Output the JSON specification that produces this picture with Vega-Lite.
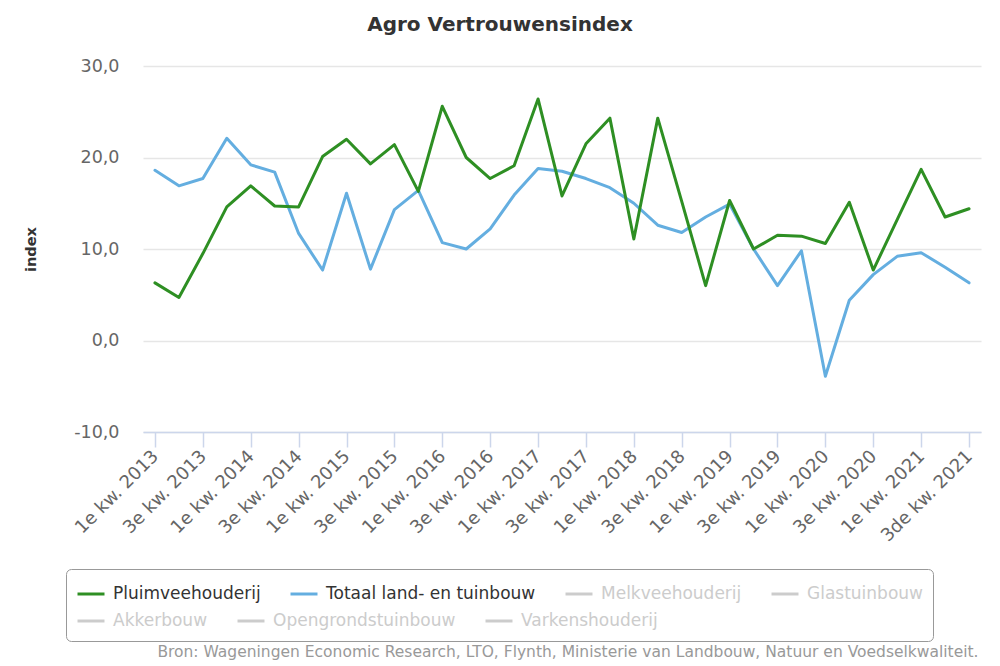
{
  "$schema": "https://vega.github.io/schema/vega-lite/v6.json",
  "width": 838,
  "height": 366,
  "autosize": {"type": "none"},
  "padding": {"left": 143, "top": 66, "right": 19, "bottom": 234},
  "background": "white",
  "title": {
    "text": "Agro Vertrouwensindex",
    "font": "DejaVu Sans",
    "fontSize": 20,
    "fontWeight": "bold",
    "color": "#333333",
    "anchor": "middle",
    "frame": "group",
    "baseline": "alphabetic",
    "offset": 6,
    "dx": -62
  },
  "config": {
    "view": {"stroke": null},
    "font": "DejaVu Sans"
  },
  "data": {
    "values": [
      {"kwartaal": "1e kw. 2013", "serie": "Pluimveehouderij", "waarde": 6.3},
      {"kwartaal": "2e kw. 2013", "serie": "Pluimveehouderij", "waarde": 4.7},
      {"kwartaal": "3e kw. 2013", "serie": "Pluimveehouderij", "waarde": 9.5},
      {"kwartaal": "4e kw. 2013", "serie": "Pluimveehouderij", "waarde": 14.6},
      {"kwartaal": "1e kw. 2014", "serie": "Pluimveehouderij", "waarde": 16.9},
      {"kwartaal": "2e kw. 2014", "serie": "Pluimveehouderij", "waarde": 14.7},
      {"kwartaal": "3e kw. 2014", "serie": "Pluimveehouderij", "waarde": 14.6},
      {"kwartaal": "4e kw. 2014", "serie": "Pluimveehouderij", "waarde": 20.1},
      {"kwartaal": "1e kw. 2015", "serie": "Pluimveehouderij", "waarde": 22.0},
      {"kwartaal": "2e kw. 2015", "serie": "Pluimveehouderij", "waarde": 19.3},
      {"kwartaal": "3e kw. 2015", "serie": "Pluimveehouderij", "waarde": 21.4},
      {"kwartaal": "4e kw. 2015", "serie": "Pluimveehouderij", "waarde": 16.3},
      {"kwartaal": "1e kw. 2016", "serie": "Pluimveehouderij", "waarde": 25.6},
      {"kwartaal": "2e kw. 2016", "serie": "Pluimveehouderij", "waarde": 20.0},
      {"kwartaal": "3e kw. 2016", "serie": "Pluimveehouderij", "waarde": 17.7},
      {"kwartaal": "4e kw. 2016", "serie": "Pluimveehouderij", "waarde": 19.1},
      {"kwartaal": "1e kw. 2017", "serie": "Pluimveehouderij", "waarde": 26.4},
      {"kwartaal": "2e kw. 2017", "serie": "Pluimveehouderij", "waarde": 15.8},
      {"kwartaal": "3e kw. 2017", "serie": "Pluimveehouderij", "waarde": 21.5},
      {"kwartaal": "4e kw. 2017", "serie": "Pluimveehouderij", "waarde": 24.3},
      {"kwartaal": "1e kw. 2018", "serie": "Pluimveehouderij", "waarde": 11.1},
      {"kwartaal": "2e kw. 2018", "serie": "Pluimveehouderij", "waarde": 24.3},
      {"kwartaal": "3e kw. 2018", "serie": "Pluimveehouderij", "waarde": 15.2},
      {"kwartaal": "4e kw. 2018", "serie": "Pluimveehouderij", "waarde": 6.0},
      {"kwartaal": "1e kw. 2019", "serie": "Pluimveehouderij", "waarde": 15.3},
      {"kwartaal": "2e kw. 2019", "serie": "Pluimveehouderij", "waarde": 10.0},
      {"kwartaal": "3e kw. 2019", "serie": "Pluimveehouderij", "waarde": 11.5},
      {"kwartaal": "4e kw. 2019", "serie": "Pluimveehouderij", "waarde": 11.4},
      {"kwartaal": "1e kw. 2020", "serie": "Pluimveehouderij", "waarde": 10.6},
      {"kwartaal": "2e kw. 2020", "serie": "Pluimveehouderij", "waarde": 15.1},
      {"kwartaal": "3e kw. 2020", "serie": "Pluimveehouderij", "waarde": 7.7},
      {"kwartaal": "4e kw. 2020", "serie": "Pluimveehouderij", "waarde": 13.2},
      {"kwartaal": "1e kw. 2021", "serie": "Pluimveehouderij", "waarde": 18.7},
      {"kwartaal": "2e kw. 2021", "serie": "Pluimveehouderij", "waarde": 13.5},
      {"kwartaal": "3de kw. 2021", "serie": "Pluimveehouderij", "waarde": 14.4},
      {"kwartaal": "1e kw. 2013", "serie": "Totaal land- en tuinbouw", "waarde": 18.6},
      {"kwartaal": "2e kw. 2013", "serie": "Totaal land- en tuinbouw", "waarde": 16.9},
      {"kwartaal": "3e kw. 2013", "serie": "Totaal land- en tuinbouw", "waarde": 17.7},
      {"kwartaal": "4e kw. 2013", "serie": "Totaal land- en tuinbouw", "waarde": 22.1},
      {"kwartaal": "1e kw. 2014", "serie": "Totaal land- en tuinbouw", "waarde": 19.2},
      {"kwartaal": "2e kw. 2014", "serie": "Totaal land- en tuinbouw", "waarde": 18.4},
      {"kwartaal": "3e kw. 2014", "serie": "Totaal land- en tuinbouw", "waarde": 11.7},
      {"kwartaal": "4e kw. 2014", "serie": "Totaal land- en tuinbouw", "waarde": 7.7},
      {"kwartaal": "1e kw. 2015", "serie": "Totaal land- en tuinbouw", "waarde": 16.1},
      {"kwartaal": "2e kw. 2015", "serie": "Totaal land- en tuinbouw", "waarde": 7.8},
      {"kwartaal": "3e kw. 2015", "serie": "Totaal land- en tuinbouw", "waarde": 14.3},
      {"kwartaal": "4e kw. 2015", "serie": "Totaal land- en tuinbouw", "waarde": 16.4},
      {"kwartaal": "1e kw. 2016", "serie": "Totaal land- en tuinbouw", "waarde": 10.7},
      {"kwartaal": "2e kw. 2016", "serie": "Totaal land- en tuinbouw", "waarde": 10.0},
      {"kwartaal": "3e kw. 2016", "serie": "Totaal land- en tuinbouw", "waarde": 12.2},
      {"kwartaal": "4e kw. 2016", "serie": "Totaal land- en tuinbouw", "waarde": 15.9},
      {"kwartaal": "1e kw. 2017", "serie": "Totaal land- en tuinbouw", "waarde": 18.8},
      {"kwartaal": "2e kw. 2017", "serie": "Totaal land- en tuinbouw", "waarde": 18.5},
      {"kwartaal": "3e kw. 2017", "serie": "Totaal land- en tuinbouw", "waarde": 17.7},
      {"kwartaal": "4e kw. 2017", "serie": "Totaal land- en tuinbouw", "waarde": 16.7},
      {"kwartaal": "1e kw. 2018", "serie": "Totaal land- en tuinbouw", "waarde": 15.0},
      {"kwartaal": "2e kw. 2018", "serie": "Totaal land- en tuinbouw", "waarde": 12.6},
      {"kwartaal": "3e kw. 2018", "serie": "Totaal land- en tuinbouw", "waarde": 11.8},
      {"kwartaal": "4e kw. 2018", "serie": "Totaal land- en tuinbouw", "waarde": 13.5},
      {"kwartaal": "1e kw. 2019", "serie": "Totaal land- en tuinbouw", "waarde": 14.9},
      {"kwartaal": "2e kw. 2019", "serie": "Totaal land- en tuinbouw", "waarde": 10.0},
      {"kwartaal": "3e kw. 2019", "serie": "Totaal land- en tuinbouw", "waarde": 6.0},
      {"kwartaal": "4e kw. 2019", "serie": "Totaal land- en tuinbouw", "waarde": 9.8},
      {"kwartaal": "1e kw. 2020", "serie": "Totaal land- en tuinbouw", "waarde": -3.9},
      {"kwartaal": "2e kw. 2020", "serie": "Totaal land- en tuinbouw", "waarde": 4.4},
      {"kwartaal": "3e kw. 2020", "serie": "Totaal land- en tuinbouw", "waarde": 7.2},
      {"kwartaal": "4e kw. 2020", "serie": "Totaal land- en tuinbouw", "waarde": 9.2},
      {"kwartaal": "1e kw. 2021", "serie": "Totaal land- en tuinbouw", "waarde": 9.6},
      {"kwartaal": "2e kw. 2021", "serie": "Totaal land- en tuinbouw", "waarde": 8.0},
      {"kwartaal": "3de kw. 2021", "serie": "Totaal land- en tuinbouw", "waarde": 6.3}
    ]
  },
  "encoding": {
    "x": {
      "field": "kwartaal",
      "type": "ordinal",
      "sort": null,
      "scale": {"type": "point", "padding": 0.5},
      "axis": {
        "values": ["1e kw. 2013", "3e kw. 2013", "1e kw. 2014", "3e kw. 2014", "1e kw. 2015", "3e kw. 2015", "1e kw. 2016", "3e kw. 2016", "1e kw. 2017", "3e kw. 2017", "1e kw. 2018", "3e kw. 2018", "1e kw. 2019", "3e kw. 2019", "1e kw. 2020", "3e kw. 2020", "1e kw. 2021", "3de kw. 2021"],
        "title": "Bron: Wageningen Economic Research, LTO, Flynth, Ministerie van Landbouw, Natuur en Voedselkwaliteit.",
        "titleFont": "DejaVu Sans",
        "titleFontSize": 15.5,
        "titleFontWeight": "normal",
        "titleColor": "#999999",
        "titleAnchor": "end",
        "titleAlign": "right",
        "titleBaseline": "alphabetic",
        "titleX": 835,
        "titleY": 224,
        "labelAngle": -45,
        "labelAlign": "right",
        "labelBaseline": "top",
        "labelPadding": 0,
        "labelOffset": -6,
        "labelFontSize": 18,
        "labelColor": "#666666",
        "labelOverlap": false,
        "domainColor": "#ccd6eb",
        "domainWidth": 1.5,
        "tickColor": "#ccd6eb",
        "tickWidth": 1.5,
        "tickSize": 15,
        "grid": false
      }
    },
    "y": {
      "field": "waarde",
      "type": "quantitative",
      "scale": {"domain": [-10, 30], "nice": false, "zero": false},
      "axis": {
        "values": [-10, 0, 10, 20, 30],
        "labelExpr": "datum.value + ',0'",
        "labelFontSize": 17.5,
        "labelColor": "#666666",
        "labelPadding": 24,
        "ticks": false,
        "domain": false,
        "grid": true,
        "gridColor": "#e6e6e6",
        "gridWidth": 1.5,
        "title": "index",
        "titleFontSize": 14.5,
        "titleFontWeight": "bold",
        "titleColor": "#333333",
        "titleAngle": -90,
        "titleAlign": "center",
        "titleBaseline": "middle",
        "titleX": -112,
        "titleY": 183
      }
    }
  },
  "layer": [
    {
      "transform": [{"filter": "datum.serie === 'Totaal land- en tuinbouw'"}],
      "mark": {"type": "line", "strokeWidth": 3, "strokeJoin": "round", "strokeCap": "round"},
      "encoding": {
        "color": {
          "field": "serie",
          "type": "nominal",
          "scale": {
            "domain": ["Pluimveehouderij", "Totaal land- en tuinbouw", "Melkveehouderij", "Glastuinbouw"],
            "range": ["#2e8f23", "#64aee0", "#cccccc", "#cccccc"]
          },
          "legend": {
            "title": " ",
            "titleOrient": "bottom",
            "titleFontSize": 24,
            "titlePadding": 5,
            "orient": "none",
            "legendX": -77,
            "legendY": 503,
            "direction": "horizontal",
            "columns": 4,
            "columnPadding": 23,
            "padding": 10,
            "strokeColor": "#999999",
            "cornerRadius": 5,
            "symbolType": "stroke",
            "symbolSize": 729,
            "symbolStrokeWidth": 3,
            "labelOffset": 7,
            "labelFontSize": 17,
            "labelFont": "DejaVu Sans",
            "labelLimit": 400,
            "encode": {
              "labels": {
                "update": {
                  "fill": {"signal": "(datum.label === 'Pluimveehouderij' || datum.label === 'Totaal land- en tuinbouw') ? '#333333' : '#cccccc'"}
                }
              }
            }
          }
        }
      }
    },
    {
      "transform": [{"filter": "datum.serie === 'Pluimveehouderij'"}],
      "mark": {"type": "line", "strokeWidth": 3, "strokeJoin": "round", "strokeCap": "round"},
      "encoding": {
        "color": {
          "field": "serie",
          "type": "nominal",
          "scale": {
            "domain": ["Pluimveehouderij", "Totaal land- en tuinbouw", "Melkveehouderij", "Glastuinbouw"],
            "range": ["#2e8f23", "#64aee0", "#cccccc", "#cccccc"]
          }
        }
      }
    },
    {
      "transform": [{"filter": "false"}],
      "mark": {"type": "line", "strokeWidth": 3},
      "encoding": {
        "stroke": {
          "field": "overig",
          "type": "nominal",
          "scale": {
            "domain": ["Akkerbouw", "Opengrondstuinbouw", "Varkenshouderij"],
            "range": ["#cccccc", "#cccccc", "#cccccc"]
          },
          "legend": {
            "title": null,
            "orient": "none",
            "legendX": -67,
            "legendY": 540,
            "direction": "horizontal",
            "columns": 3,
            "columnPadding": 23,
            "padding": 0,
            "symbolType": "stroke",
            "symbolSize": 729,
            "symbolStrokeWidth": 3,
            "labelOffset": 7,
            "labelFontSize": 17,
            "labelFont": "DejaVu Sans",
            "labelColor": "#cccccc",
            "labelLimit": 400
          }
        }
      }
    }
  ]
}
